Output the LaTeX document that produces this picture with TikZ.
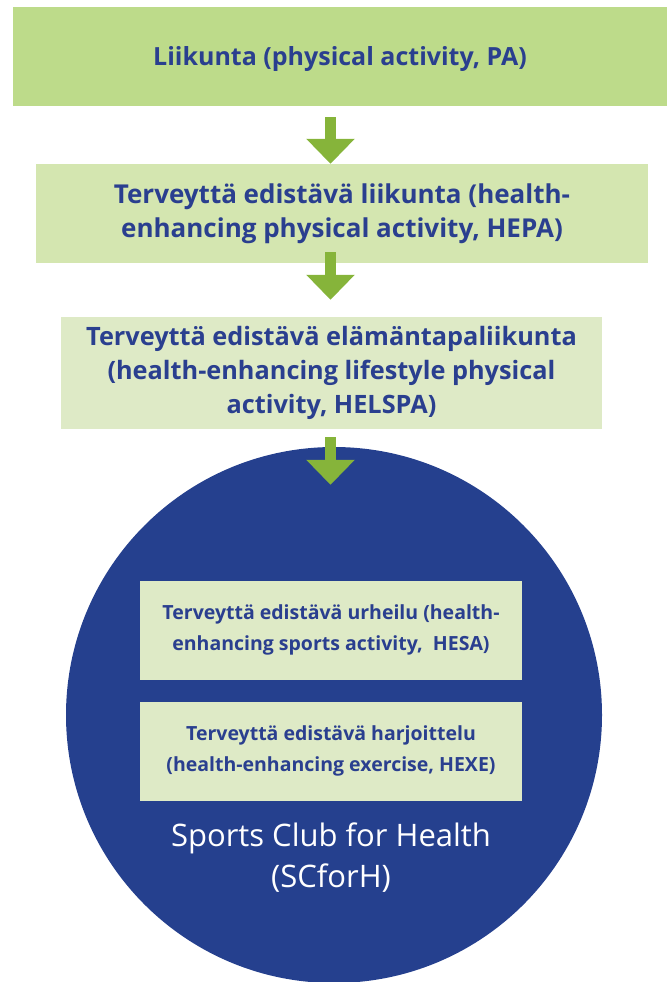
\documentclass[tikz,border=0pt]{standalone}
\usepackage{fontspec}
\setmainfont{Open Sans}
\usetikzlibrary{arrows.meta}
\definecolor{gA}{HTML}{BDDB8A}
\definecolor{gB}{HTML}{D4E6B0}
\definecolor{gC}{HTML}{DEEAC6}
\definecolor{navy}{HTML}{25408E}
\definecolor{txt}{HTML}{2A3F8F}
\definecolor{arr}{HTML}{86B43A}
\tikzset{
  box/.style={draw=none, inner sep=0pt, align=center, text=txt,
    font=\bfseries\fontsize{26}{34}\selectfont},
  ibox/.style={fill=gC, draw=none, inner sep=0pt, align=center, text=txt,
    minimum width=382pt, minimum height=99pt,
    font=\bfseries\fontsize{19.5}{31}\selectfont},
  flowarrow/.style={draw=arr, line width=11pt,
    -{Triangle[width=47pt,length=25pt]}},
}
\begin{document}
\begin{tikzpicture}[x=1pt,y=-1pt]
\useasboundingbox (0,0) rectangle (667,982);
% circle
\node[circle, fill=navy, minimum size=536pt, inner sep=0pt] (circ) at (334,715) {};
% boxes
\node[box, fill=gA, minimum width=654pt, minimum height=99pt, text depth=0pt,
  font=\bfseries\fontsize{25}{34}\selectfont] (b1) at (340,56.5)
  {Liikunta (physical activity, PA)};
\node[box, fill=gB, minimum width=612pt, minimum height=99pt] (b2) at (342,213.5)
  {Terveyttä edistävä liikunta (health-\\enhancing physical activity, HEPA)};
\node[box, fill=gC, minimum width=541pt, minimum height=112pt,
  font=\bfseries\fontsize{25.3}{34}\selectfont] (b3) at (331.5,373)
  {Terveyttä edistävä elämäntapaliikunta\\(health-enhancing lifestyle physical\\activity, HELSPA)};
\node[ibox] (i1) at (331,630)
  {Terveyttä edistävä urheilu (health-\\enhancing sports activity,\ \ HESA)};
\node[ibox] (i2) at (331,751)
  {Terveyttä edistävä harjoittelu\\(health-enhancing exercise, HEXE)};
\node[align=center, text=white, font=\fontsize{31}{41}\selectfont] (scforh) at (331,858)
  {Sports Club for Health\\(SCforH)};
% arrows
\coordinate (ax) at (330.5,0);
\draw[flowarrow, shorten <=11pt] (b1.south -| ax) -- (b2.north -| ax);
\draw[flowarrow, shorten <=-11pt, shorten >=17pt] (b2.south -| ax) -- (b3.north -| ax);
\draw[flowarrow, shorten <=8pt, shorten >=-38pt] (b3.south -| ax) -- (circ.north -| ax);
\end{tikzpicture}
\end{document}
